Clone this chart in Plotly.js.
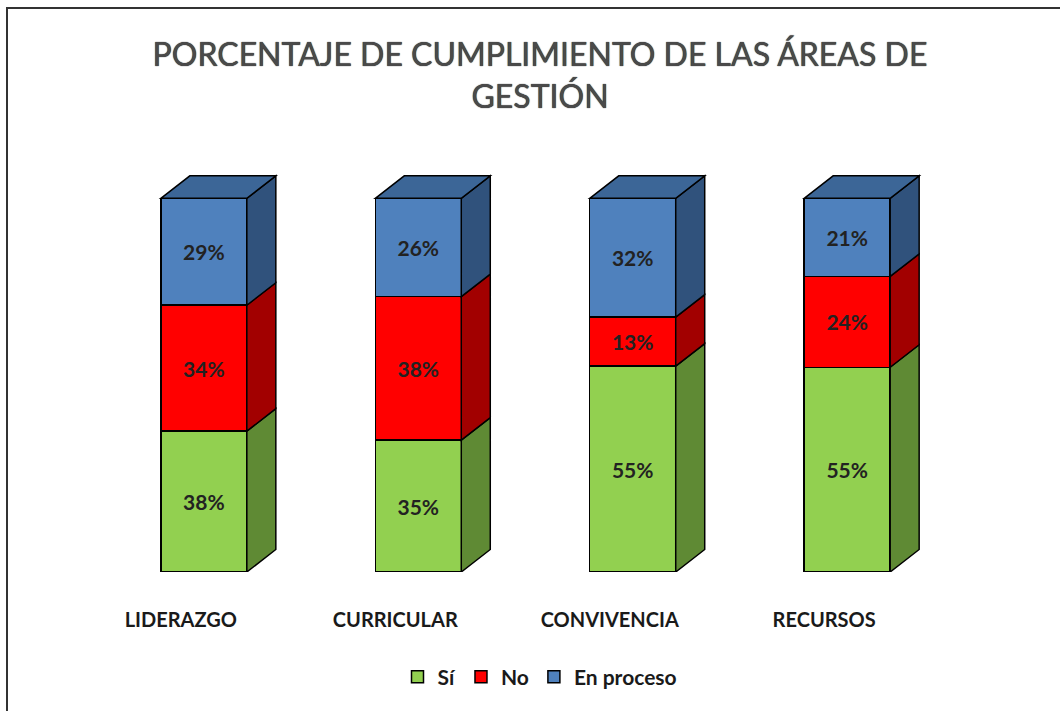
<!DOCTYPE html>
<html>
<head>
<meta charset="utf-8">
<script src="https://cdn.plot.ly/plotly-3.0.1.min.js"></script>
<style>
  html, body { margin: 0; padding: 0; background: #fff; }
  #wrap { position: relative; width: 1060px; height: 711px; overflow: hidden; }
  #chart { width: 1060px; height: 711px; }
  #frame { position: absolute; left: 6px; top: 7px; width: 2000px; height: 2000px;
           border-top: 2px solid #333; border-left: 2px solid #333; pointer-events: none; }
</style>
</head>
<body>
<div id="wrap"><div id="chart"></div><div id="frame"></div></div>
<script>
const categories = ['LIDERAZGO', 'CURRICULAR', 'CONVIVENCIA', 'RECURSOS'];
const si = [37.7, 35.3, 55.1, 54.8];
const no = [33.7, 38.4, 13.1, 24.3];
const enProceso = [28.6, 26.3, 31.8, 20.9];
const seriesNames = ['Sí', 'No', 'En proceso'];

const frontColors = ['#92D050', '#FF0000', '#4F81BD'];
const sideColors = ['#5F8A34', '#A20000', '#30527C'];
const topColor = '#3C6697';

const xpos = categories.map((c, i) => i);
const barW = 0.401;
const margin = {l: 43, r: 52, t: 161, b: 139};
const xRange = [-0.75, 3.75];
const yRange = [0, 110];
const plotW = 1060 - margin.l - margin.r;
const plotH = 711 - margin.t - margin.b;
const dxData = 29 * (xRange[1] - xRange[0]) / plotW;
const dyData = 22.5 * (yRange[1] - yRange[0]) / plotH;

const series = [si, no, enProceso];
const traces = series.map((vals, k) => ({
  type: 'bar',
  name: seriesNames[k],
  x: xpos,
  y: vals,
  width: barW,
  marker: {color: frontColors[k], line: {color: '#000', width: 1.5}},
  texttemplate: '%{y:.0f}%',
  textposition: 'inside',
  insidetextanchor: 'middle',
  textangle: 0,
  textfont: {family: 'Lato, sans-serif', size: 21, color: '#222', weight: 'bold'},
  hoverinfo: 'skip'
}));

const shapes = [];
xpos.forEach((x, i) => {
  let base = 0;
  const xr = x + barW / 2;
  const xl = x - barW / 2;
  series.forEach((vals, k) => {
    const top = base + vals[i];
    shapes.push({
      type: 'path', xref: 'x', yref: 'y', layer: 'above',
      path: `M ${xr} ${base} L ${xr + dxData} ${base + dyData} L ${xr + dxData} ${top + dyData} L ${xr} ${top} Z`,
      fillcolor: sideColors[k], line: {color: '#000', width: 1.5}
    });
    base = top;
  });
  shapes.push({
    type: 'path', xref: 'x', yref: 'y', layer: 'above',
    path: `M ${xl} ${base} L ${xl + dxData} ${base + dyData} L ${xr + dxData} ${base + dyData} L ${xr} ${base} Z`,
    fillcolor: topColor, line: {color: '#000', width: 1.5}
  });
});

const layout = {
  width: 1060, height: 711,
  margin: margin,
  paper_bgcolor: 'rgba(0,0,0,0)',
  plot_bgcolor: 'rgba(0,0,0,0)',
  barmode: 'stack',
  showlegend: true,
  title: {
    text: 'PORCENTAJE DE CUMPLIMIENTO DE LAS ÁREAS DE<br>GESTIÓN',
    x: 540 / 1060, xref: 'container', xanchor: 'center',
    y: 1 - 66 / 711, yref: 'container', yanchor: 'top',
    font: {family: 'Lato, sans-serif', size: 32, color: '#4a4a4a', shadow: '0px 0px 1px #000'}
  },
  xaxis: {
    range: xRange, tickvals: xpos, ticktext: categories,
    showgrid: false, zeroline: false, showline: false, ticks: '',
    ticklabelshift: -23, ticklabelstandoff: 34,
    tickfont: {family: 'Lato, sans-serif', size: 20, color: '#1a1a1a', weight: 'bold'},
    fixedrange: true
  },
  yaxis: {range: yRange, visible: false, fixedrange: true},
  legend: {
    orientation: 'h', x: (540 - margin.l) / plotW, xanchor: 'center',
    y: (572 - 677) / plotH, yanchor: 'middle',
    font: {family: 'Lato, sans-serif', size: 21, color: '#1a1a1a', weight: 'bold'},
    traceorder: 'normal'
  },
  shapes: shapes
};

Plotly.newPlot('chart', traces, layout, {displayModeBar: false, staticPlot: true});
</script>
</body>
</html>
